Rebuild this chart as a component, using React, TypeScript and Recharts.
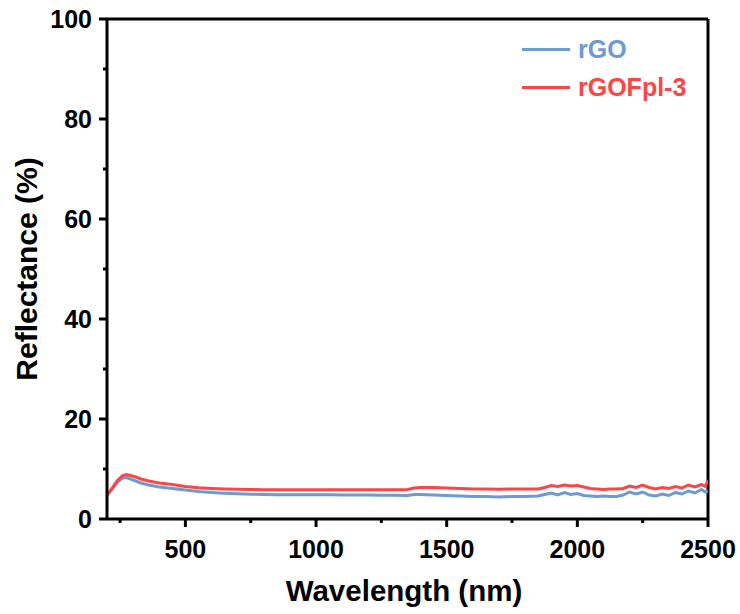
import { LineChart, Line, XAxis, YAxis, ReferenceLine, Label } from "recharts";

const wavelengths = [
  200, 220, 240, 260, 275, 290, 310, 330, 360, 400, 450, 500, 550, 600, 650, 700, 750, 800, 850, 900,
  950, 1000, 1050, 1100, 1150, 1200, 1250, 1300, 1350, 1375, 1400, 1450, 1500, 1550, 1600, 1650, 1700,
  1750, 1800, 1850, 1875, 1900, 1925, 1950, 1975, 2000, 2025, 2050, 2075, 2100, 2125, 2150, 2175, 2200,
  2225, 2250, 2275, 2300, 2325, 2350, 2375, 2400, 2425, 2450, 2475, 2490, 2500,
];

const rGO = [
  4.8, 6.0, 7.4, 8.2, 8.3, 8.0, 7.6, 7.2, 6.8, 6.4, 6.1, 5.8, 5.5, 5.3, 5.15, 5.05, 4.95, 4.9, 4.85, 4.85,
  4.85, 4.85, 4.85, 4.8, 4.8, 4.8, 4.75, 4.75, 4.7, 4.9, 4.9, 4.8, 4.7, 4.6, 4.5, 4.5, 4.4,
  4.5, 4.5, 4.6, 4.9, 5.2, 4.8, 5.3, 4.9, 5.1, 4.7, 4.6, 4.5, 4.6, 4.5, 4.5, 4.8, 5.4,
  5.0, 5.4, 4.8, 4.6, 5.0, 4.7, 5.3, 5.0, 5.6, 5.2, 5.9, 5.4, 5.6,
];

const rGOFpl3 = [
  4.8, 6.2, 7.7, 8.7, 8.9, 8.7, 8.4, 8.0, 7.6, 7.2, 6.9, 6.5, 6.25, 6.1, 6.0, 5.95, 5.9, 5.85, 5.85, 5.85,
  5.85, 5.85, 5.85, 5.85, 5.85, 5.85, 5.85, 5.85, 5.9, 6.2, 6.3, 6.3, 6.2, 6.1, 6.0, 6.0, 5.95,
  6.0, 6.0, 6.0, 6.3, 6.7, 6.5, 6.8, 6.6, 6.7, 6.4, 6.1, 6.0, 5.9, 6.0, 6.0, 6.1, 6.6,
  6.3, 6.8, 6.3, 6.0, 6.3, 6.1, 6.5, 6.2, 6.8, 6.4, 6.9, 6.5, 7.8,
];

const xTicks = [250, 500, 750, 1000, 1250, 1500, 1750, 2000, 2250, 2500];
const yTicks = [0, 10, 20, 30, 40, 50, 60, 70, 80, 90, 100];

const seriesNames = ["rGO", "rGOFpl-3"];
const seriesColors = ["#6b9bd2", "#fa4646"];

const data = wavelengths.map((w, i) => ({ w, rGO: rGO[i], rGOFpl3: rGOFpl3[i] }));

const FONT = "'Liberation Sans', Arial, sans-serif";

const XTick = ({ x, y, payload }: any) => {
  const major = payload.value % 500 === 0;
  return (
    <g>
      <line x1={x} x2={x} y1={y} y2={y + (major ? 8 : 4)} stroke="#000" strokeWidth={3} />
      {major && (
        <text x={x} y={y + 39} textAnchor="middle" fontFamily={FONT} fontWeight="bold" fontSize={25} fill="#000">
          {payload.value}
        </text>
      )}
    </g>
  );
};

const YTick = ({ x, y, payload }: any) => {
  const major = payload.value % 20 === 0;
  return (
    <g>
      <line x1={x} x2={x - (major ? 8 : 4)} y1={y} y2={y} stroke="#000" strokeWidth={3} />
      {major && (
        <text x={x - 15} y={y + 9} textAnchor="end" fontFamily={FONT} fontWeight="bold" fontSize={25} fill="#000">
          {payload.value}
        </text>
      )}
    </g>
  );
};

const LegendBox = () => (
  <div style={{ position: "absolute", left: 522, top: 30, fontFamily: FONT, fontWeight: "bold", fontSize: 25 }}>
    {seriesNames.map((n, i) => (
      <div key={n} style={{ display: "flex", alignItems: "center", height: 38, color: seriesColors[i] }}>
        <span style={{ display: "inline-block", width: 48, height: 3, background: seriesColors[i], marginRight: 8 }} />
        {n}
      </div>
    ))}
  </div>
);

export default function App() {
  return (
    <div style={{ position: "absolute", left: 0, top: 0, width: 740, height: 614, background: "#fff" }}>
      <LineChart width={740} height={614} data={data} margin={{ top: 19, right: 32, left: 0, bottom: 0 }}>
        <XAxis
          dataKey="w"
          type="number"
          domain={[200, 2500]}
          ticks={xTicks}
          interval={0}
          height={95}
          tickSize={0}
          tickMargin={0}
          tick={<XTick />}
          axisLine={{ stroke: "#000", strokeWidth: 3 }}
          allowDataOverflow
        >
          <Label
            content={() => (
              <text x={404} y={601} textAnchor="middle" fontFamily={FONT} fontWeight="bold" fontSize={29.5} fill="#000">
                Wavelength (nm)
              </text>
            )}
          />
        </XAxis>
        <YAxis
          type="number"
          domain={[0, 100]}
          ticks={yTicks}
          interval={0}
          width={107}
          tickSize={0}
          tickMargin={0}
          tick={<YTick />}
          axisLine={{ stroke: "#000", strokeWidth: 3 }}
        >
          <Label
            content={() => (
              <text
                x={37}
                y={269}
                transform="rotate(-90 37 269)"
                textAnchor="middle"
                fontFamily={FONT}
                fontWeight="bold"
                fontSize={30}
                fill="#000"
              >
                Reflectance (%)
              </text>
            )}
          />
        </YAxis>
        <ReferenceLine y={100} stroke="#000" strokeWidth={3} />
        <ReferenceLine x={2500} stroke="#000" strokeWidth={3} />
        <Line dataKey="rGO" name="rGO" stroke={seriesColors[0]} strokeWidth={3} dot={false} isAnimationActive={false} />
        <Line dataKey="rGOFpl3" name="rGOFpl-3" stroke={seriesColors[1]} strokeWidth={3} dot={false} isAnimationActive={false} />
      </LineChart>
      <LegendBox />
    </div>
  );
}
